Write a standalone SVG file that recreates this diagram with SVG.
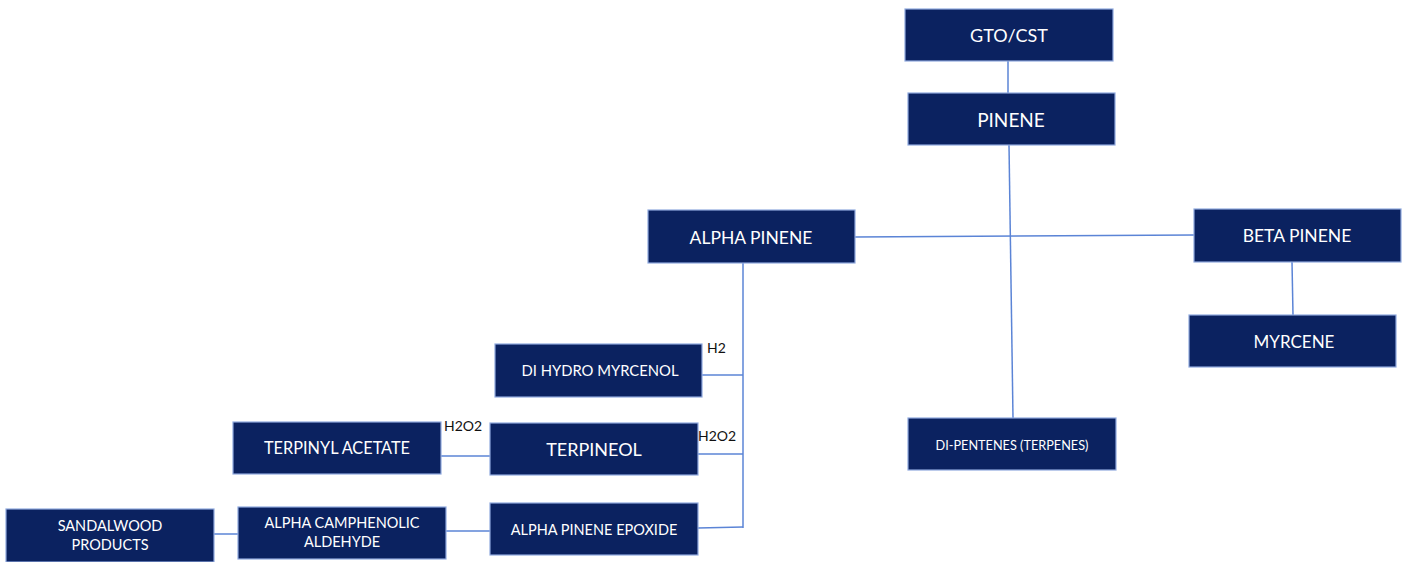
<svg xmlns="http://www.w3.org/2000/svg" width="1411" height="562" viewBox="0 0 1411 562">
<style>
.box{fill:#0b2260;stroke:#8fa9de;stroke-width:1.2}
.t{fill:#ffffff;font-family:Lato,"Open Sans","Liberation Sans",sans-serif;text-anchor:middle;dominant-baseline:central}
.c{stroke:#5b84d6;stroke-width:1.5;fill:none}
.lbl{fill:#111;font-family:Lato,"Open Sans","Liberation Sans",sans-serif;font-size:14px}
</style>
<rect width="1411" height="562" fill="#ffffff"/>
<g id="connectors">
<line class="c" x1="1008" y1="61" x2="1008" y2="93"/>
<line class="c" x1="1009" y1="145" x2="1013" y2="418"/>
<line class="c" x1="855" y1="237" x2="1194" y2="235"/>
<line class="c" x1="1292" y1="262" x2="1293" y2="315"/>
<line class="c" x1="743" y1="263" x2="743" y2="528"/>
<line class="c" x1="702" y1="375" x2="743" y2="375"/>
<line class="c" x1="698" y1="454" x2="743" y2="454"/>
<line class="c" x1="698" y1="528" x2="743" y2="527"/>
<line class="c" x1="441" y1="456" x2="490" y2="456"/>
<line class="c" x1="446" y1="531" x2="490" y2="531"/>
<line class="c" x1="214" y1="534" x2="238" y2="534"/>
</g>
<g id="gto"><rect class="box" x="905" y="9" width="208" height="52"/><text class="t" x="1009" y="35" font-size="18">GTO/CST</text></g>
<g id="pinene"><rect class="box" x="908" y="93" width="207" height="52"/><text class="t" x="1011" y="119" font-size="19">PINENE</text></g>
<g id="alpha"><rect class="box" x="648" y="210" width="207" height="53"/><text class="t" x="751" y="237" font-size="17.5">ALPHA PINENE</text></g>
<g id="beta"><rect class="box" x="1194" y="209" width="207" height="53"/><text class="t" x="1297" y="235" font-size="17.5">BETA PINENE</text></g>
<g id="myrcene"><rect class="box" x="1189" y="315" width="207" height="52"/><text class="t" x="1294" y="341" font-size="17">MYRCENE</text></g>
<g id="dipentenes"><rect class="box" x="908" y="418" width="208" height="52"/><text class="t" x="1012" y="445" font-size="12.7">DI-PENTENES (TERPENES)</text></g>
<g id="dhm"><rect class="box" x="495" y="344" width="207" height="53"/><text class="t" x="600" y="370" font-size="14.8">DI HYDRO MYRCENOL</text></g>
<g id="terpineol"><rect class="box" x="490" y="423" width="208" height="52"/><text class="t" x="594" y="449" font-size="18">TERPINEOL</text></g>
<g id="epoxide"><rect class="box" x="490" y="503" width="208" height="52"/><text class="t" x="594" y="529" font-size="14.5">ALPHA PINENE EPOXIDE</text></g>
<g id="terpinyl"><rect class="box" x="233" y="422" width="208" height="52"/><text class="t" x="337" y="447" font-size="16.3">TERPINYL ACETATE</text></g>
<g id="camphenolic"><rect class="box" x="238" y="507" width="208" height="52"/><text class="t" x="342" y="522" font-size="14.5">ALPHA CAMPHENOLIC</text><text class="t" x="342" y="541" font-size="14.5">ALDEHYDE</text></g>
<g id="sandalwood"><rect class="box" x="6" y="509" width="208" height="53"/><text class="t" x="110" y="525" font-size="14.5">SANDALWOOD</text><text class="t" x="110" y="544" font-size="14.5">PRODUCTS</text></g>
<g id="labels">
<text class="lbl" x="707" y="353">H2</text>
<text class="lbl" x="698" y="441" font-size="13">H2O2</text>
<text class="lbl" x="444" y="431">H2O2</text>
</g>
</svg>
